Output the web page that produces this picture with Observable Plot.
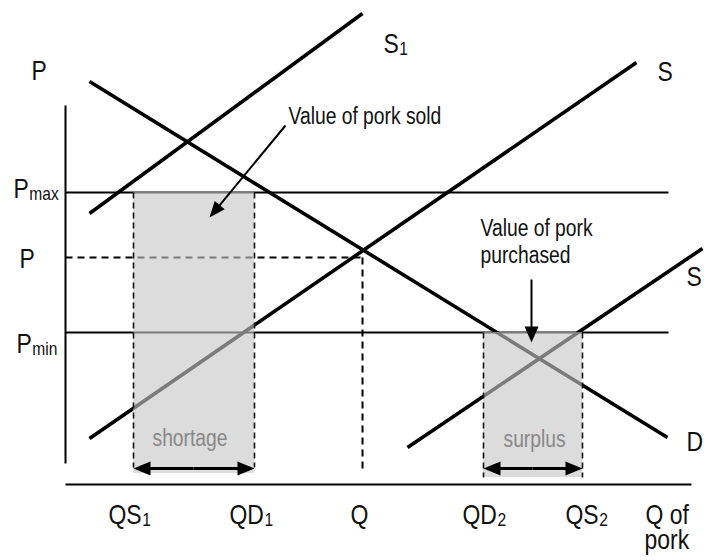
<!DOCTYPE html>
<html>
<head>
<meta charset="utf-8">
<script src="https://cdn.jsdelivr.net/npm/d3@7"></script>
<script src="https://cdn.jsdelivr.net/npm/@observablehq/plot@0.6"></script>
<style>
  html, body { margin: 0; padding: 0; background: #fff; }
  #chart { width: 704px; height: 560px; }
</style>
</head>
<body>
<div id="chart"></div>
<script>
// ---- Data (quantity q to the right, price p upward, in chart units) ----
const curves = [
  {name: "D",  q1: 89,  p1: 479, q2: 667, p2: 123},
  {name: "S1", q1: 89,  p1: 347, q2: 362, p2: 547},
  {name: "S",  q1: 89,  p1: 122, q2: 636, p2: 498},
  {name: "S2", q1: 407, p1: 113, q2: 702, p2: 312}
];
const priceLines = [
  {name: "Pmax", p: 368, q1: 65, q2: 668},
  {name: "Pmin", p: 228, q1: 65, q2: 668}
];
const equilibriumLines = [
  {q1: 65,  p1: 303, q2: 362, p2: 303},
  {q1: 362, p1: 303, q2: 362, p2: 87}
];
const axisLines = [
  {q1: 65, p1: 455, q2: 65,  p2: 97},
  {q1: 65, p1: 76,  q2: 691, p2: 76}
];
const areas = [
  {name: "shortage", q1: 133, q2: 254, p1: 87, p2: 368, edgeBottom: 93},
  {name: "surplus",  q1: 483, q2: 582, p1: 83, p2: 228, edgeBottom: 83}
];
const arrows = [
  {q1: 193, p1: 92,  q2: 254, p2: 92,  w: 3, len: 17, half: 7},
  {q1: 193, p1: 92,  q2: 133, p2: 92,  w: 3, len: 17, half: 7},
  {q1: 532, p1: 92,  q2: 582, p2: 92,  w: 3, len: 17, half: 7},
  {q1: 532, p1: 92,  q2: 483, p2: 92,  w: 3, len: 17, half: 7},
  {q1: 285, p1: 435, q2: 209, p2: 343, w: 2, len: 16, half: 6.5},
  {q1: 531, p1: 281, q2: 531, p2: 218, w: 2, len: 16, half: 7}
];
const bigLabels = [
  {text: "P",     q: 31,  p: 481},
  {text: "P_max", q: 13,  p: 363},
  {text: "P",     q: 19,  p: 293},
  {text: "P_min", q: 16,  p: 208},
  {text: "S_1",   q: 383, p: 508},
  {text: "S",     q: 657, p: 480},
  {text: "S",     q: 686, p: 275},
  {text: "D",     q: 686, p: 110},
  {text: "QS_1",  q: 108, p: 37},
  {text: "QD_1",  q: 229, p: 37},
  {text: "Q",     q: 350, p: 37},
  {text: "QD_2",  q: 462, p: 37},
  {text: "QS_2",  q: 565, p: 37},
  {text: "Q of",  q: 645, p: 37},
  {text: "pork",  q: 644, p: 12}
];
const noteLabels = [
  {text: "Value of pork sold", q: 288, p: 437, color: "#111"},
  {text: "Value of pork",      q: 480, p: 325, color: "#111"},
  {text: "purchased",          q: 480, p: 298, color: "#111"},
  {text: "shortage",           q: 152, p: 115, color: "#888"},
  {text: "surplus",            q: 503, p: 114, color: "#888"}
];

// ---- Derived: shortened shafts & heads (from the arrow data) ----
const shafts = arrows.map(a => {
  const dx = a.q2 - a.q1, dy = a.p2 - a.p1, L = Math.hypot(dx, dy);
  const k = (L - a.len * 0.6) / L;
  return {...a, q2s: a.q1 + dx * k, p2s: a.p1 + dy * k};
});
const heads = arrows.map(a => ({
  q: a.q2, p: a.p2, len: a.len, half: a.half,
  angle: Math.atan2(a.q2 - a.q1, a.p2 - a.p1) * 180 / Math.PI
}));
function headSymbol(len, half) {
  return {draw(ctx) { ctx.moveTo(0, 0); ctx.lineTo(-half, len); ctx.lineTo(half, len); ctx.closePath(); }};
}

const FONT = "'Liberation Sans', Arial, sans-serif";
const NARROW = 0.82; // Arial Narrow look: horizontally condensed Arial metrics

const chart = Plot.plot({
  width: 704,
  height: 560,
  margin: 0,
  x: {domain: [0, 704], axis: null},
  y: {domain: [0, 560], axis: null},
  style: {fontFamily: FONT, background: "#fff", overflow: "visible"},
  marks: [
    Plot.link(priceLines, {x1: "q1", x2: "q2", y1: "p", y2: "p", stroke: "#000", strokeWidth: 2}),
    Plot.link(equilibriumLines, {x1: "q1", y1: "p1", x2: "q2", y2: "p2", stroke: "#000", strokeWidth: 2, strokeDasharray: "7,5"}),
    Plot.link(axisLines, {x1: "q1", y1: "p1", x2: "q2", y2: "p2", stroke: "#000", strokeWidth: 2}),
    Plot.link(curves, {x1: "q1", y1: "p1", x2: "q2", y2: "p2", stroke: "#000", strokeWidth: 3.6, strokeLinecap: "butt"}),
    Plot.rect(areas, {x1: "q1", x2: "q2", y1: "p1", y2: "p2", fill: "#c6c6c6", fillOpacity: 0.62}),
    Plot.link(areas, {x1: "q1", x2: "q1", y1: "p2", y2: "edgeBottom", stroke: "#111", strokeWidth: 1.6, strokeDasharray: "6,4"}),
    Plot.link(areas, {x1: "q2", x2: "q2", y1: "p2", y2: "edgeBottom", stroke: "#111", strokeWidth: 1.6, strokeDasharray: "6,4"}),
    Plot.text(bigLabels, {x: "q", y: "p", text: "text", textAnchor: "start", lineAnchor: "bottom", fontSize: 28, fill: "#111"}),
    Plot.text(noteLabels, {x: "q", y: "p", text: "text", textAnchor: "start", lineAnchor: "bottom", fontSize: 23.5, fill: "color"}),
    Plot.link(shafts, {x1: "q1", y1: "p1", x2: "q2s", y2: "p2s", stroke: "#000", strokeWidth: "w"}),
    ...heads.map(h => Plot.dot([h], {x: "q", y: "p", rotate: "angle", symbol: headSymbol(h.len, h.half), fill: "#000", stroke: "none", r: 6}))
  ]
});

document.getElementById("chart").appendChild(chart);

// subscripts: "X_sub" -> main text "X" + a smaller sibling text "sub"
const subPairs = [];
d3.select(chart).selectAll("text").each(function () {
  const s = this.textContent;
  const i = s.indexOf("_");
  if (i < 0) return;
  this.textContent = s.slice(0, i);
  const sub = this.cloneNode(false);
  sub.textContent = s.slice(i + 1);
  sub.setAttribute("font-size", 19);
  this.parentNode.insertBefore(sub, this.nextSibling);
  subPairs.push([this, sub]);
});

// condense glyphs horizontally (narrow typeface look)
d3.select(chart).selectAll("text").each(function () {
  const len = this.getComputedTextLength();
  if (len > 0) {
    this.setAttribute("textLength", (len * NARROW).toFixed(1));
    this.setAttribute("lengthAdjust", "spacingAndGlyphs");
  }
});

// place each subscript right after its base, slightly lowered
for (const [main, sub] of subPairs) {
  const w = +main.getAttribute("textLength") + 0.5;
  const t = main.getAttribute("transform") || "";
  sub.setAttribute("transform", `${t} translate(${w},2)`);
}
</script>
</body>
</html>
